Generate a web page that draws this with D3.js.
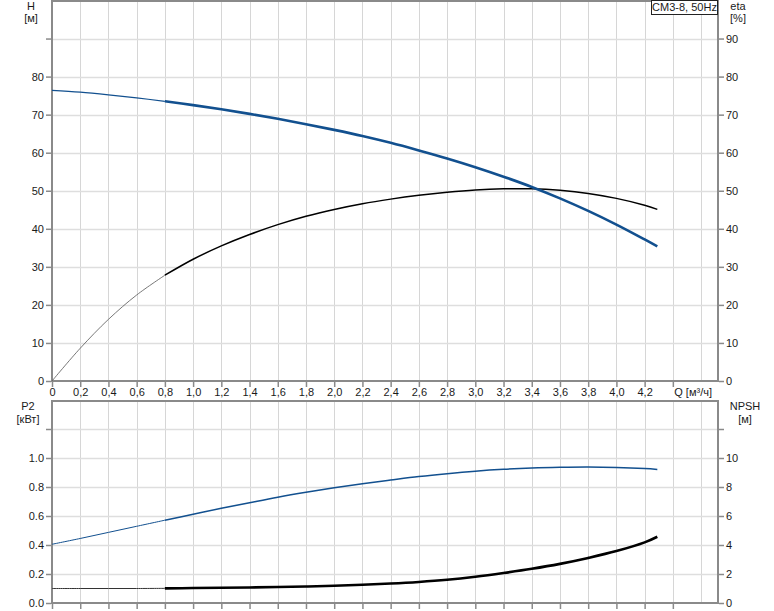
<!DOCTYPE html>
<html><head><meta charset="utf-8">
<script src="https://cdn.jsdelivr.net/npm/d3@7"></script>
<style>body{margin:0;background:#fff;} text{font-family:"Liberation Sans",Arial,sans-serif;}</style>
</head><body>
<svg id="c" width="774" height="611"></svg>
<script>
// ---- data ----
const qValues    = [0,0.2,0.4,0.6,0.8,1.0,1.2,1.4,1.6,1.8,2.0,2.2,2.4,2.6,2.8,3.0,3.2,3.4,3.6,3.8,4.0,4.2,4.29];
const headH      = [76.4,75.9,75.2,74.4,73.5,72.5,71.4,70.2,68.9,67.5,66.0,64.4,62.6,60.6,58.5,56.2,53.7,51.0,48.0,44.7,41.1,37.2,35.4];
const effEta     = [0,8.6,16.2,22.6,27.8,32.0,35.5,38.5,41.1,43.3,45.1,46.6,47.8,48.8,49.6,50.2,50.5,50.5,50.1,49.3,48.0,46.2,45.1];
const powerP2    = [0.100,0.100,0.100,0.100,0.101,0.103,0.105,0.107,0.110,0.114,0.119,0.126,0.134,0.145,0.160,0.181,0.207,0.236,0.270,0.311,0.358,0.418,0.457];
const npshValues = [4.05,4.45,4.87,5.29,5.71,6.12,6.53,6.92,7.30,7.64,7.95,8.23,8.48,8.72,8.92,9.09,9.22,9.31,9.36,9.38,9.35,9.27,9.21];
const qTicks     = [0,0.2,0.4,0.6,0.8,1.0,1.2,1.4,1.6,1.8,2.0,2.2,2.4,2.6,2.8,3.0,3.2,3.4,3.6,3.8,4.0,4.2,4.4,4.6];
const qLabelTicks= [0,0.2,0.4,0.6,0.8,1.0,1.2,1.4,1.6,1.8,2.0,2.2,2.4,2.6,2.8,3.0,3.2,3.4,3.6,3.8,4.0,4.2];
const hTicks     = [0,10,20,30,40,50,60,70,80,90];
const hLabelTicks= [0,10,20,30,40,50,60,70,80];
const etaLabelTicks = [0,10,20,30,40,50,60,70,80,90];
const p2Ticks    = [0,0.2,0.4,0.6,0.8,1.0,1.2];
const p2LabelTicks = [0,0.2,0.4,0.6,0.8,1.0];
const npshTicks  = [0,2,4,6,8,10,12];
const npshLabelTicks = [0,2,4,6,8,10];
const splitQ = 0.8;
const title = "CM3-8, 50Hz";

// ---- layout ----
const svg = d3.select("#c");
const L = 52, R = 718;
const x = d3.scaleLinear().domain([0,4.72]).range([L,R]);
const yH = d3.scaleLinear().domain([0,100]).range([381,0.5]);
const yEta = d3.scaleLinear().domain([0,100]).range([381,0.5]);
const yP = d3.scaleLinear().domain([0,1.4]).range([603,400]);
const yN = d3.scaleLinear().domain([0,14]).range([603,400]);
const gridC = "#d6d6d6", axisC = "#8a8a8a", textC = "#1a1a1a";
const blue = "#12508f";
const fmtC = d => d===0 ? "0" : d3.format(".1f")(d).replace(".",",");

function grid(yScale, yTicks, top, bottom){
  const g = svg.append("g");
  g.selectAll(".v").data(qTicks.filter(d=>d>0)).join("line")
    .attr("x1",d=>Math.round(x(d))+0.5).attr("x2",d=>Math.round(x(d))+0.5)
    .attr("y1",top).attr("y2",bottom).attr("stroke",gridC).attr("stroke-width",1);
  g.selectAll(".h").data(yTicks.filter(d=>d>0)).join("line")
    .attr("x1",L).attr("x2",R).attr("y1",d=>Math.round(yScale(d))+0.5).attr("y2",d=>Math.round(yScale(d))+0.5)
    .attr("stroke","#dedede").attr("stroke-width",1.5);
}
grid(yH, hTicks, 0, 381);
grid(yP, p2Ticks, 400, 603);

// frames
function frame(top,bottom){
  svg.append("line").attr("x1",L).attr("x2",R).attr("y1",top+1).attr("y2",top+1).attr("stroke",axisC).attr("stroke-width",2);
  svg.append("line").attr("x1",L).attr("x2",R).attr("y1",bottom).attr("y2",bottom).attr("stroke",axisC).attr("stroke-width",2);
  svg.append("line").attr("x1",L).attr("x2",L).attr("y1",top).attr("y2",bottom+1).attr("stroke",axisC).attr("stroke-width",2);
  svg.append("line").attr("x1",R).attr("x2",R).attr("y1",top).attr("y2",bottom+1).attr("stroke",axisC).attr("stroke-width",2);
}
frame(0,381);
frame(400,603);

// axes
function yAxisLeft(scale, ticks, labels, fmt){
  const g = svg.append("g").attr("transform",`translate(${L-1},0)`)
    .call(d3.axisLeft(scale).tickValues(ticks).tickSize(5).tickFormat(d=>labels.includes(d)?fmt(d):""));
  g.select(".domain").remove();
  g.selectAll(".tick line").attr("stroke",axisC).attr("stroke-width",1.5);
  g.selectAll("text").attr("fill",textC).attr("font-size",11).attr("x",-7);
}
function yAxisRight(scale, ticks, labels, fmt){
  const g = svg.append("g").attr("transform",`translate(${R+1},0)`)
    .call(d3.axisRight(scale).tickValues(ticks).tickSize(5).tickFormat(d=>labels.includes(d)?fmt(d):""));
  g.select(".domain").remove();
  g.selectAll(".tick line").attr("stroke",axisC).attr("stroke-width",1.5);
  g.selectAll("text").attr("fill",textC).attr("font-size",11).attr("x",7);
}
yAxisLeft(yH, hTicks, hLabelTicks, d3.format("d"));
yAxisRight(yEta, hTicks, etaLabelTicks, d3.format("d"));
yAxisLeft(yP, p2Ticks, p2LabelTicks, d3.format(".1f"));
yAxisRight(yN, npshTicks, npshLabelTicks, d3.format("d"));

function xAxis(y0, withLabels){
  const g = svg.append("g").attr("transform",`translate(0,${y0})`)
    .call(d3.axisBottom(x).tickValues(qTicks.filter(d=>d<=4.4)).tickSize(5)
      .tickFormat(d=> withLabels && qLabelTicks.includes(d) ? fmtC(d) : ""));
  g.select(".domain").remove();
  g.selectAll(".tick line").attr("stroke",axisC).attr("stroke-width",1.5);
  g.selectAll("text").attr("fill",textC).attr("font-size",11).attr("y",6);
}
xAxis(382, true);
xAxis(604, false);

// axis titles
function label(t, xx, yy, anchor){
  svg.append("text").attr("x",xx).attr("y",yy).attr("text-anchor",anchor||"middle")
    .attr("font-size",11).attr("fill",textC).text(t);
}
label("H", 31, 10); label("[м]", 31, 22);
label("eta", 738, 10); label("[%]", 738, 22);
label("P2", 28, 410); label("[кВт]", 28, 423);
label("NPSH", 745, 410); label("[м]", 745, 423);
label("Q [м³/ч]", 712, 396, "end");

// title box
const tb = svg.append("g");
tb.append("rect").attr("x",651.5).attr("y",0.5).attr("width",66).attr("height",14)
  .attr("fill","#fff").attr("stroke","#222").attr("stroke-width",1);
tb.append("text").attr("x",684.5).attr("y",11).attr("text-anchor","middle").attr("font-size",11).attr("fill",textC).text(title);

// curves
function curve(vals, yScale, color, thinW, thickW, thinColor){
  const pts = qValues.map((q,i)=>[q,vals[i]]);
  const line = d3.line().x(d=>x(d[0])).y(d=>yScale(d[1])).curve(d3.curveCatmullRom.alpha(0.5));
  const thin = pts.filter(d=>d[0]<=splitQ), thick = pts.filter(d=>d[0]>=splitQ);
  svg.append("path").attr("d",line(thin)).attr("fill","none").attr("stroke",thinColor||color).attr("stroke-width",thinW);
  svg.append("path").attr("d",line(thick)).attr("fill","none").attr("stroke",color).attr("stroke-width",thickW).attr("stroke-linecap","butt");
}
curve(effEta, yEta, "#000", 0.8, 1.5, "#555");
curve(headH, yH, blue, 1.2, 2.6);
curve(npshValues, yN, blue, 1, 1.5);
curve(powerP2, yP, "#000", 1, 2.6, "#333");
</script>
</body></html>
